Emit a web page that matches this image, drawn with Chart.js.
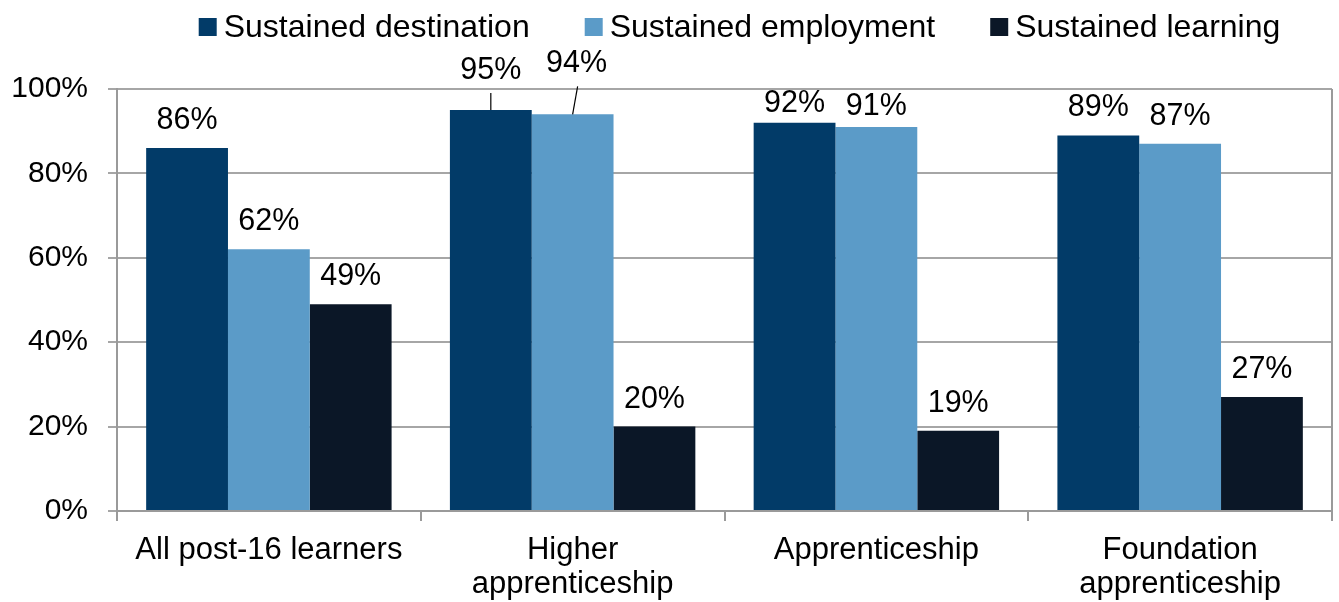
<!DOCTYPE html>
<html><head><meta charset="utf-8">
<script src="https://cdn.jsdelivr.net/npm/chart.js@4.4.1/dist/chart.umd.min.js"></script>
<style>html,body{margin:0;padding:0;background:#fff;}#wrap{width:1339px;height:602px;}</style>
</head><body><div id="wrap"><canvas id="c" width="1339" height="602"></canvas></div>
<script>
const categories = ['All post-16 learners', ['Higher', 'apprenticeship'], 'Apprenticeship', ['Foundation', 'apprenticeship']];
const seriesNames = ['Sustained destination', 'Sustained employment', 'Sustained learning'];
const destination = [86, 95, 92, 89];
const employment = [62, 94, 91, 87];
const learning = [49, 20, 19, 27];
const yTicks = [0, 20, 40, 60, 80, 100];

const seriesColors = ['#023B68', '#5B9BC8', '#0B1727'];
const FONT = '"Liberation Sans", Arial, sans-serif';
const tickFontSize = 30;
const catFontSize = 31;
const labelFontSize = 30.5;
const legendFontSize = 32;
const axisGray = '#9a9a9a';

// label placement tweaks (dataset-index key), styling only
const labelGap = 19;
const labelTweaks = {
  '0-1': { lift: 31, dx: 0, leader: { dxTop: 0, gapTop: 14 } },
  '1-1': { lift: 42, dx: 4, leader: { dxTop: 5, gapTop: 14 } },
  '0-2': { lift: 11 },
  '1-2': { lift: 12 }
};
const legendLayout = { y: 27, box: 18, gap: 7, spacing: 55, shift: 15 };

const labelPlugin = {
  id: 'barLabels',
  afterDatasetsDraw(chart) {
    const ctx = chart.ctx;
    ctx.save();
    ctx.font = labelFontSize + 'px ' + FONT;
    ctx.fillStyle = '#000';
    ctx.textAlign = 'center';
    ctx.textBaseline = 'alphabetic';
    chart.data.datasets.forEach((ds, i) => {
      chart.getDatasetMeta(i).data.forEach((bar, j) => {
        const t = labelTweaks[i + '-' + j] || {};
        const lift = t.lift !== undefined ? t.lift : labelGap;
        const x = bar.x + (t.dx || 0);
        const y = bar.y - lift;
        ctx.fillText(ds.data[j] + '%', x, y);
        if (t.leader) {
          ctx.beginPath();
          ctx.strokeStyle = '#000';
          ctx.lineWidth = 1.2;
          ctx.moveTo(bar.x + t.leader.dxTop, y + t.leader.gapTop);
          ctx.lineTo(bar.x, bar.y);
          ctx.stroke();
        }
      });
    });
    ctx.restore();
  }
};

const frameLegendPlugin = {
  id: 'frameLegend',
  afterDraw(chart) {
    const ctx = chart.ctx;
    const a = chart.chartArea;
    ctx.save();
    ctx.strokeStyle = axisGray;
    ctx.lineWidth = 2;
    ctx.beginPath();
    ctx.moveTo(a.right, a.top);
    ctx.lineTo(a.right, a.bottom);
    ctx.stroke();
    ctx.font = legendFontSize + 'px ' + FONT;
    ctx.textBaseline = 'middle';
    ctx.textAlign = 'left';
    const L = legendLayout;
    const items = chart.data.datasets.map(ds => ({ label: ds.label, color: ds.backgroundColor, w: ctx.measureText(ds.label).width }));
    const total = items.reduce((s, it) => s + L.box + L.gap + it.w, 0) + L.spacing * (items.length - 1);
    let x = (a.left + a.right) / 2 + L.shift - total / 2;
    items.forEach(it => {
      ctx.fillStyle = it.color;
      ctx.fillRect(x, L.y - L.box / 2, L.box, L.box);
      ctx.fillStyle = '#000';
      ctx.fillText(it.label, x + L.box + L.gap, L.y + 1);
      x += L.box + L.gap + it.w + L.spacing;
    });
    ctx.restore();
  }
};

const seriesData = [destination, employment, learning];
new Chart(document.getElementById('c'), {
  type: 'bar',
  data: {
    labels: categories,
    datasets: seriesNames.map((n, i) => ({
      label: n,
      data: seriesData[i],
      backgroundColor: seriesColors[i],
      borderWidth: 0,
      barPercentage: 1.0,
      categoryPercentage: 0.808
    }))
  },
  options: {
    responsive: false,
    animation: false,
    layout: { padding: { top: 89, right: 7, bottom: 0, left: 0 } },
    plugins: { legend: { display: false }, tooltip: { enabled: false } },
    scales: {
      x: {
        grid: { display: true, drawOnChartArea: false, drawTicks: true, tickLength: 10, color: axisGray, lineWidth: 2, offset: true },
        border: { display: true, color: axisGray, width: 2 },
        ticks: { font: { family: FONT, size: catFontSize, lineHeight: 1.08 }, color: '#000', padding: 13, maxRotation: 0, autoSkip: false },
        afterFit: s => { s.height = 91; }
      },
      y: {
        min: 0, max: 100,
        grid: { color: '#a6a6a6', lineWidth: 2, tickLength: 9, drawTicks: true },
        border: { display: true, color: axisGray, width: 2 },
        ticks: { font: { family: FONT, size: tickFontSize }, color: '#000', padding: 20, callback: v => v + '%' },
        afterBuildTicks: s => { s.ticks = yTicks.map(v => ({ value: v })); },
        afterFit: s => { s.width = 117; }
      }
    }
  },
  plugins: [labelPlugin, frameLegendPlugin]
});
</script></body></html>
